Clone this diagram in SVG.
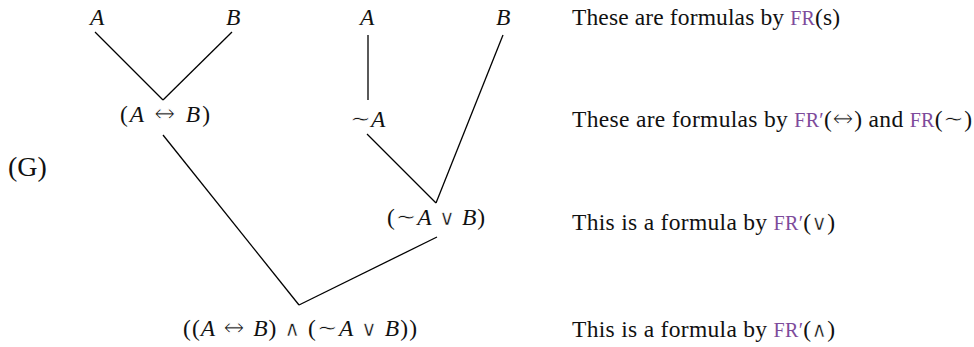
<svg xmlns="http://www.w3.org/2000/svg" width="974" height="347" viewBox="0 0 974 347">
<style>
text{font-family:"Liberation Serif","DejaVu Serif",serif;font-size:23.5px;fill:#111}
.i{font-style:italic}
.op{font-family:"DejaVu Sans",sans-serif;font-size:21px;stroke:#fff;stroke-width:0.45}
.tl{font-family:"DejaVu Sans",sans-serif;font-size:25px;stroke:#fff;stroke-width:0.8}
.arr{font-family:"DejaVu Sans",sans-serif;font-size:26px;stroke:#fff;stroke-width:1.1}
.fr{fill:#7D4B9B;font-size:20px}
.big{font-size:28px}
.ln{stroke:#000;stroke-width:1.3;fill:none}
</style>
<rect width="974" height="347" fill="#fff"/>
<g id="connectors">
<line class="ln" x1="95" y1="32" x2="163" y2="100"/>
<line class="ln" x1="232" y1="32" x2="163" y2="100"/>
<line class="ln" x1="368" y1="35" x2="368" y2="100"/>
<line class="ln" x1="367" y1="134" x2="436" y2="203"/>
<line class="ln" x1="503" y1="35" x2="436" y2="203"/>
<line class="ln" x1="163" y1="135" x2="299" y2="305"/>
<line class="ln" x1="437" y1="237" x2="299" y2="305"/>
</g>
<g id="n-A1"><text class="i" x="90" y="25">A</text></g>
<g id="n-B1"><text class="i" x="226" y="25">B</text></g>
<g id="n-A2"><text class="i" x="360" y="25">A</text></g>
<g id="n-B2"><text class="i" x="496" y="25">B</text></g>
<g id="n-AiffB"><text x="120" y="122" textLength="90" lengthAdjust="spacing">(<tspan class="i">A</tspan> <tspan class="arr">↔</tspan> <tspan class="i">B</tspan>)</text></g>
<g id="n-notA"><text x="350" y="127"><tspan class="tl">∼</tspan><tspan class="i">A</tspan></text></g>
<g id="n-notAorB"><text x="387" y="225" textLength="98" lengthAdjust="spacing">(<tspan class="tl">∼</tspan><tspan class="i">A</tspan> <tspan class="op">∨</tspan> <tspan class="i">B</tspan>)</text></g>
<g id="n-root"><text x="183" y="336" textLength="234" lengthAdjust="spacing">((<tspan class="i">A</tspan> <tspan class="arr">↔</tspan> <tspan class="i">B</tspan>) <tspan class="op">∧</tspan> (<tspan class="tl">∼</tspan><tspan class="i">A</tspan> <tspan class="op">∨</tspan> <tspan class="i">B</tspan>))</text></g>
<g id="label-G"><text class="big" x="8" y="176">(G)</text></g>
<g id="notes">
<text x="572" y="25" textLength="268" lengthAdjust="spacing">These are formulas by <tspan class="fr">FR</tspan>(s)</text>
<text x="572" y="127" textLength="400" lengthAdjust="spacing">These are formulas by <tspan class="fr">FR′</tspan>(<tspan class="arr">↔</tspan>) and <tspan class="fr">FR</tspan>(<tspan class="tl">∼</tspan>)</text>
<text x="572" y="230" textLength="263" lengthAdjust="spacing">This is a formula by <tspan class="fr">FR′</tspan>(<tspan class="op">∨</tspan>)</text>
<text x="572" y="337" textLength="263" lengthAdjust="spacing">This is a formula by <tspan class="fr">FR′</tspan>(<tspan class="op">∧</tspan>)</text>
</g>
</svg>
